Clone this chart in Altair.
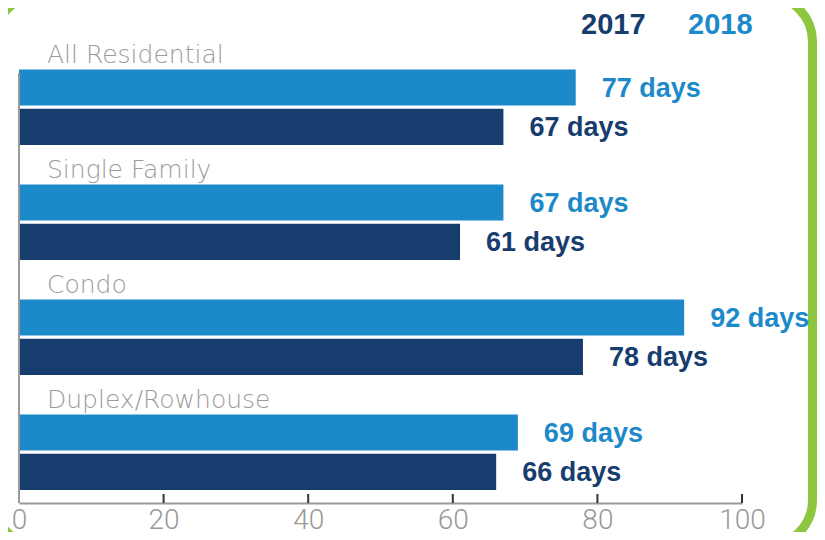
import altair as alt
import pandas as pd

# ---- data ----
categories = ["All Residential", "Single Family", "Condo", "Duplex/Rowhouse"]
years = ["2017", "2018"]
days_2017 = [67, 61, 78, 66]
days_2018 = [77, 67, 92, 69]
x_ticks = [0, 20, 40, 60, 80, 100]

DARK = "#173D6E"
LIGHT = "#1C8AC9"
GRAY = "#9B9B9B"
GREEN = "#8DC63F"

rows = []
for c, a, b in zip(categories, days_2017, days_2018):
    rows.append({"category": c, "slot": "2018", "year": "2018", "days": b, "label": f"{b} days"})
    rows.append({"category": c, "slot": "2017", "year": "2017", "days": a, "label": f"{a} days"})
df = pd.DataFrame(rows)
cat_df = pd.DataFrame({"category": categories, "slot": ["label"] * len(categories)})
tick_df = pd.DataFrame({"v": [t for t in x_ticks if t > 0]})
one_df = pd.DataFrame({"k": [0]})

W, H = 723, 473

y_enc = alt.Y("category:N", sort=categories,
              scale=alt.Scale(range=[0, 460], paddingInner=0, paddingOuter=0),
              axis=None)
yoff_enc = alt.YOffset("slot:N",
                       scale=alt.Scale(domain=["label", "2018", "2017"],
                                       paddingInner=0.08, paddingOuter=0))
x_scale = alt.Scale(domain=[0, 100], nice=False)
color_scale = alt.Scale(domain=years, range=[DARK, LIGHT])

frame = alt.Chart(one_df).mark_rect(
    fillOpacity=0, stroke=GREEN, strokeWidth=9, cornerRadius=46
).encode(x=alt.value(-25), x2=alt.value(793.5), y=alt.value(-34.5), y2=alt.value(516))

bars = alt.Chart(df).mark_bar().encode(
    x=alt.X("days:Q", scale=x_scale,
            axis=alt.Axis(values=x_ticks, grid=False, ticks=False, tickSize=0, title=None,
                          domainColor="#999999", domainWidth=2,
                          labelFont="Roboto", labelFontSize=28, labelFontWeight=300,
                          labelColor="#999999", labelBaseline="alphabetic",
                          labelPadding=25, labelFlush=False)),
    y=y_enc,
    yOffset=yoff_enc,
    color=alt.Color("year:N", scale=color_scale, legend=None),
)

values = alt.Chart(df).mark_text(
    align="left", baseline="middle", dx=26, dy=1,
    font="Liberation Sans", fontSize=27, fontWeight="bold"
).encode(
    x=alt.X("days:Q", scale=x_scale),
    y=y_enc,
    yOffset=yoff_enc,
    text="label:N",
    color=alt.Color("year:N", scale=color_scale, legend=None),
)

cat_labels = alt.Chart(cat_df).mark_text(
    align="left", baseline="alphabetic", dx=28, dy=15,
    font="DejaVu Sans", fontSize=25, fontWeight=300, color=GRAY
).encode(
    x=alt.datum(0),
    y=y_enc,
    yOffset=yoff_enc,
    text="category:N",
)

# colored-text legend (2017 / 2018) at the top right
leg_style = dict(align="left", baseline="alphabetic",
                 font="Liberation Sans", fontSize=29, fontWeight="bold")
leg_2017 = alt.Chart(one_df).mark_text(text=years[0], color=DARK, **leg_style).encode(
    x=alt.value(562), y=alt.value(4))
leg_2018 = alt.Chart(one_df).mark_text(text=years[1], color=LIGHT, **leg_style).encode(
    x=alt.value(669), y=alt.value(4))

ticks = alt.Chart(tick_df).mark_rule(color="#333333", strokeWidth=2).encode(
    x=alt.X("v:Q", scale=x_scale), y=alt.value(H - 9), y2=alt.value(H)
)

left_line = alt.Chart(one_df).mark_rule(color="#999999", strokeWidth=2).encode(
    x=alt.datum(0), y=alt.value(43), y2=alt.value(H)
)

chart = alt.layer(frame, bars, values, cat_labels, ticks, left_line, leg_2017, leg_2018).properties(
    width=W, height=H,
    autosize=alt.AutoSizeParams(type="none"),
    padding={"left": 11, "top": 22, "right": 75, "bottom": 29},
).configure_view(stroke=None)

chart.save("out.html", embed_options={"renderer": "svg", "actions": False})
